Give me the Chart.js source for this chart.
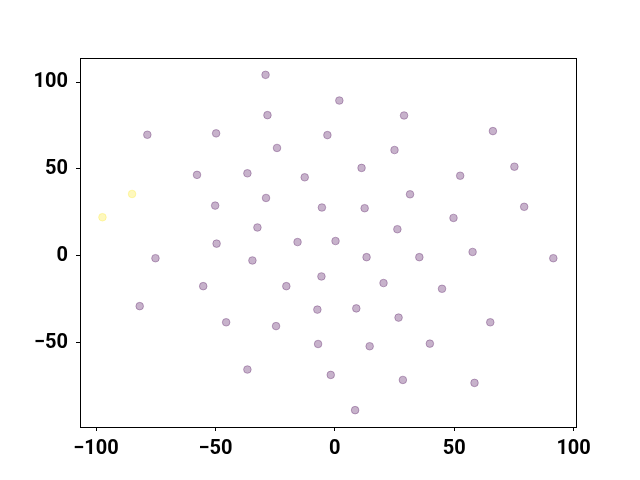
<!DOCTYPE html>
<html>
<head>
<meta charset="utf-8">
<script src="https://cdn.jsdelivr.net/npm/chart.js@4"></script>
<style>
html,body{margin:0;padding:0;background:#fff;}
#wrap{width:640px;height:480px;}
</style>
</head>
<body>
<div id="wrap"><canvas id="c" width="640" height="480"></canvas></div>
<script>
const xTicks = [-100, -50, 0, 50, 100];
const yTicks = [-50, 0, 50, 100];

const purpleX = [-29.0, 1.9, 29.0, -28.2, -78.5, -49.7, -3.1, 66.2, -24.2, 25.0, 75.2, 11.2, -57.7, -36.6, -12.6, 52.5,
  -28.8, 31.5, -50.1, -5.4, 12.5, 79.3, 49.7, -32.4, 26.2, -15.6, 0.3, -49.5, -75.1, -34.5, 13.3, 35.4, 57.7, 91.5,
  -5.6, 20.4, -20.3, -55.1, 44.9, -81.7, 9.0, -7.3, 26.7, -45.5, -24.6, 65.1, -7.0, 14.6, 39.8, -36.6, -1.7, 28.5, 58.5, 8.5];
const purpleY = [104.2, 89.4, 80.8, 81.0, 69.7, 70.5, 69.5, 71.8, 62.1, 60.9, 51.3, 50.6, 46.6, 47.5, 45.2, 46.1,
  33.3, 35.4, 28.9, 27.8, 27.4, 28.2, 21.8, 16.3, 15.3, 7.9, 8.5, 7.0, -1.4, -2.7, -0.8, -0.8, 2.2, -1.4,
  -11.9, -15.7, -17.5, -17.5, -19.0, -29.0, -30.3, -31.0, -35.6, -38.3, -40.5, -38.3, -50.8, -52.1, -50.6, -65.5, -68.6, -71.5, -73.2, -88.9];
const yellowX = [-84.9, -97.3];
const yellowY = [35.6, 22.2];

const toPts = (xs, ys) => xs.map((x, i) => ({x: x, y: ys[i]}));
const fmt = v => (v < 0 ? '\u2212' + Math.abs(v) : String(v));

const frame = {
  id: 'frame',
  afterDraw(chart) {
    const a = chart.chartArea, ctx = chart.ctx;
    ctx.save();
    ctx.strokeStyle = '#000';
    ctx.lineWidth = 1;
    ctx.strokeRect(Math.round(a.left) + 0.5, Math.round(a.top) + 0.5, Math.round(a.right - a.left), Math.round(a.bottom - a.top));
    ctx.restore();
  }
};

new Chart(document.getElementById('c'), {
  type: 'scatter',
  data: {
    datasets: [
      {data: toPts(purpleX, purpleY), backgroundColor: 'rgba(68,1,84,0.3)', borderColor: 'rgba(68,1,84,0.3)', borderWidth: 1, pointRadius: 3.8},
      {data: toPts(yellowX, yellowY), backgroundColor: 'rgba(253,231,37,0.3)', borderColor: 'rgba(253,231,37,0.3)', borderWidth: 1, pointRadius: 3.8}
    ]
  },
  options: {
    responsive: false,
    animation: false,
    events: [],
    layout: {padding: {left: 0, right: 64, top: 58, bottom: 0}},
    plugins: {legend: {display: false}, tooltip: {enabled: false}},
    scales: {
      x: {
        type: 'linear', min: -106.7, max: 101.0,
        afterFit(s) { s.height = 53; },
        afterBuildTicks(s) { s.ticks = xTicks.map(v => ({value: v})); },
        grid: {drawOnChartArea: false, drawTicks: true, tickLength: 4, color: '#000'},
        border: {display: true, color: '#000'},
        ticks: {color: '#000', padding: 6, maxRotation: 0, font: {family: 'Roboto', weight: 'bold', size: 20}, callback: v => fmt(v)}
      },
      y: {
        type: 'linear', min: -98.6, max: 113.9,
        afterFit(s) { s.width = 80; },
        afterBuildTicks(s) { s.ticks = yTicks.map(v => ({value: v})); },
        grid: {drawOnChartArea: false, drawTicks: true, tickLength: 4, color: '#000'},
        border: {display: true, color: '#000'},
        ticks: {color: '#000', padding: 8, font: {family: 'Roboto', weight: 'bold', size: 20}, callback: v => fmt(v)}
      }
    }
  },
  plugins: [frame]
});
</script>
</body>
</html>
